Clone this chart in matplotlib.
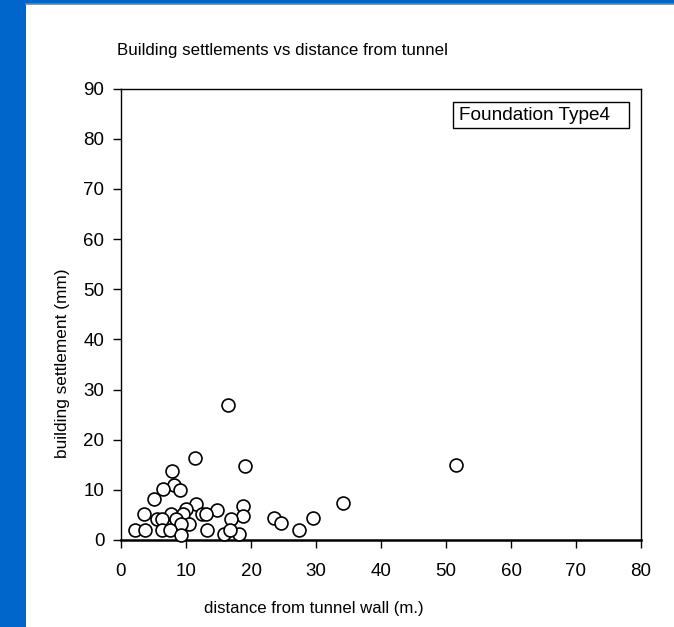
import matplotlib
matplotlib.use("Agg")
import matplotlib.pyplot as plt
from matplotlib.patches import Rectangle

distance = [16.4, 11.4, 19.0, 7.8, 8.1, 6.5, 9.0, 5.1, 11.6, 14.7, 3.5, 7.7, 10.0, 9.6,
            12.5, 13.1, 18.8, 18.8, 16.9, 5.5, 6.3, 8.4, 10.4, 9.2, 2.1, 3.7, 6.3, 7.6,
            13.2, 9.2, 15.9, 18.2, 16.7, 23.6, 24.6, 27.4, 29.5, 34.1, 51.6]
settlement = [26.9, 16.3, 14.8, 13.8, 11.0, 10.2, 10.0, 8.2, 7.2, 5.9, 5.1, 5.1, 6.2, 5.2,
              5.2, 5.2, 6.7, 4.7, 4.2, 4.2, 4.2, 4.2, 3.1, 3.1, 2.0, 2.0, 2.0, 2.0,
              2.0, 1.0, 1.1, 1.1, 1.9, 4.4, 3.3, 1.9, 4.4, 7.4, 15.0]

title = "Building settlements vs distance from tunnel"
xlabel = "distance from tunnel wall (m.)"
ylabel = "building settlement (mm)"
legend_text = "Foundation Type4"

plt.rcParams['font.family'] = ['Liberation Sans', 'DejaVu Sans']

W, H = 674, 627
fig = plt.figure(figsize=(W / 100, H / 100), dpi=100)
fig.patch.set_facecolor('#0066CC')
# white panel
fig.patches.append(Rectangle((26 / W, 0), 1 - 26 / W, 1 - 4 / H, transform=fig.transFigure,
                             facecolor='white', edgecolor='none', zorder=-5))
fig.lines.append(plt.Line2D([26 / W, 1], [1 - 4 / H, 1 - 4 / H], transform=fig.transFigure,
                            color='#808080', lw=1.2, zorder=-4))

ax = fig.add_axes([121 / W, 1 - 540 / H, (641 - 121) / W, (540 - 88.5) / H])
ax.set_facecolor('white')
ax.scatter(distance, settlement, s=9.3 ** 2, facecolors='white', edgecolors='black',
           linewidths=1.2, zorder=3, clip_on=False)
ax.set_xlim(0, 80)
ax.set_ylim(0, 90)
ax.set_xticks(range(0, 81, 10))
ax.set_yticks(range(0, 91, 10))
ax.tick_params(direction='out', length=5.5, width=1, labelsize=13.5)
ax.tick_params(axis='y', pad=6.5)
ax.tick_params(axis='x', pad=11)
for s in ax.spines.values():
    s.set_linewidth(1.0)
ax.spines['bottom'].set_linewidth(1.8)

fig.text(117 / W, 1 - 51 / H, title, fontsize=12.2, va='center', ha='left')
fig.text(314 / W, 1 - 609 / H, xlabel, fontsize=12.1, va='center', ha='center')
fig.text(62 / W, 1 - 363 / H, ylabel, fontsize=12.4, va='center', ha='center', rotation=90)

# legend-like label box
fig.patches.append(Rectangle((453 / W, 1 - 128 / H), 176 / W, 26 / H, transform=fig.transFigure,
                             facecolor='white', edgecolor='black', lw=1, zorder=5))
fig.text(459 / W, 1 - 115 / H, legend_text, fontsize=13.7, ha='left', va='center', zorder=6)

fig.savefig('out.png', dpi=100, facecolor=fig.get_facecolor())
